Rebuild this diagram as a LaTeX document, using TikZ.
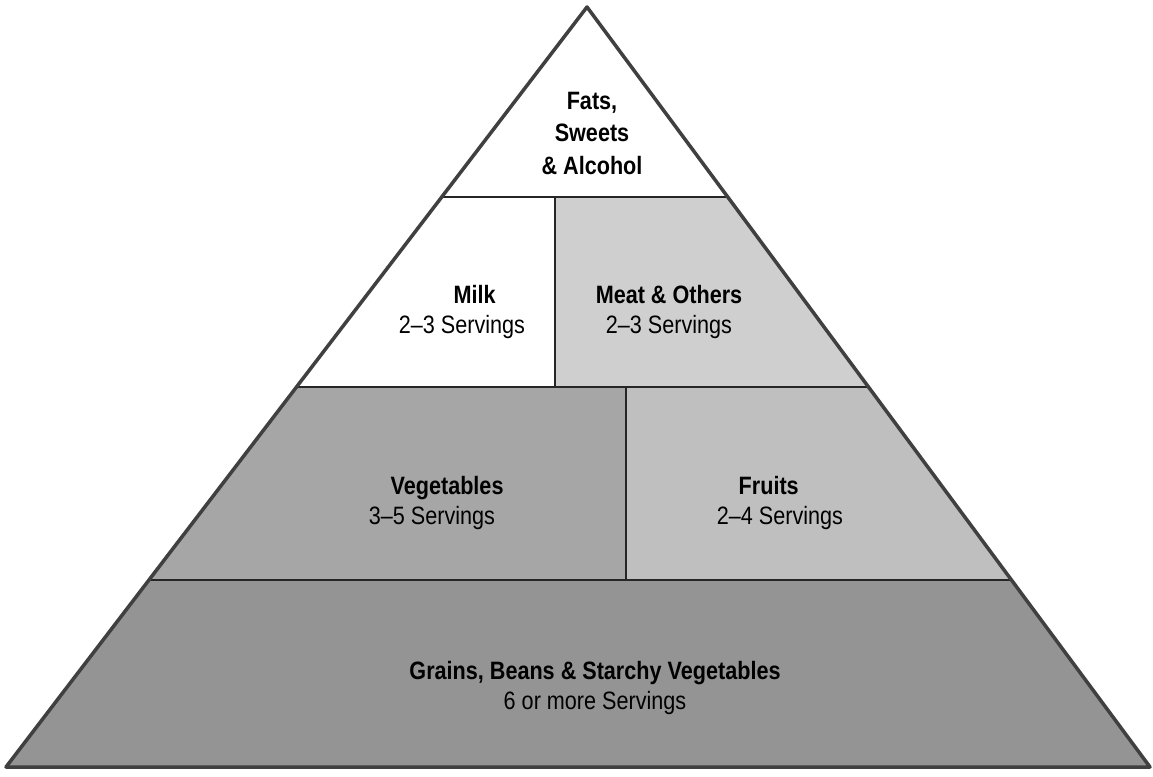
\documentclass[tikz,border=0pt]{standalone}
\usepackage{fontspec}
\setmainfont{Liberation Sans}[FakeStretch=0.86]
\usetikzlibrary{calc}
\definecolor{meatgray}{gray}{0.81}
\definecolor{veggray}{gray}{0.65}
\definecolor{fruitgray}{gray}{0.75}
\definecolor{graingray}{gray}{0.58}
\tikzset{
  tiertext/.style={align=center,font=\fontsize{14.3}{17.5}\selectfont},
  tierline/.style={line width=1pt,black!85},
  outline/.style={line width=2pt,black!75,line join=round}
}
\begin{document}
\begin{tikzpicture}[x=0.02cm,y=-0.02cm]
    \useasboundingbox (0,0) rectangle (1153,777);
    %% corners
    \coordinate (apex) at (587,7);
    \coordinate (bl) at (6,767);
    \coordinate (br) at (1150,767);
    \coordinate (l1) at ($(apex)!0.25!(bl)$);
    \coordinate (r1) at ($(apex)!0.25!(br)$);
    \coordinate (l2) at ($(apex)!0.5!(bl)$);
    \coordinate (r2) at ($(apex)!0.5!(br)$);
    \coordinate (l3) at ($(apex)!0.754!(bl)$);
    \coordinate (r3) at ($(apex)!0.754!(br)$);
    \coordinate (m1) at (555,197);
    \coordinate (m2) at (555,387);
    \coordinate (f1) at (626,387);
    \coordinate (f2) at (626,580);
    %% fills
    \fill[meatgray] (m1) -- (r1) -- (r2) -- (m2) -- cycle;
    \fill[veggray] (l2) -- (f1) -- (f2) -- (l3) -- cycle;
    \fill[fruitgray] (f1) -- (r2) -- (r3) -- (f2) -- cycle;
    \fill[graingray] (l3) -- (r3) -- (br) -- (bl) -- cycle;
    %% tiers
    \draw[tierline] (l1) -- (r1);
    \draw[tierline] (l2) -- (r2);
    \draw[tierline] (l3) -- (r3);
    \draw[tierline] (m1) -- (m2);
    \draw[tierline] (f1) -- (f2);
    %% outline
    \draw[outline] (apex) -- (br) -- (bl) -- cycle;
    %% labels
    \node[tiertext,font=\fontsize{14.3}{18.5}\selectfont] (fats) at (592,133) {\bfseries Fats,\\\bfseries Sweets\\\bfseries \& Alcohol};
    \node[tiertext] (milk) at (462,312) {\hspace*{1em}\bfseries Milk\\2--3 Servings};
    \node[tiertext] (meat) at (669,312) {\bfseries Meat \& Others\\2--3 Servings};
    \node[tiertext] (veg) at (432,503) {\hspace*{1.2em}\bfseries Vegetables\\3--5 Servings};
    \node[tiertext] (fruit) at (780,503) {\bfseries Fruits\hspace*{0.9em}\\2--4 Servings};
    \node[tiertext] (grain) at (595,688) {\bfseries Grains, Beans \& Starchy Vegetables\\6 or more Servings};
\end{tikzpicture}
\end{document}
